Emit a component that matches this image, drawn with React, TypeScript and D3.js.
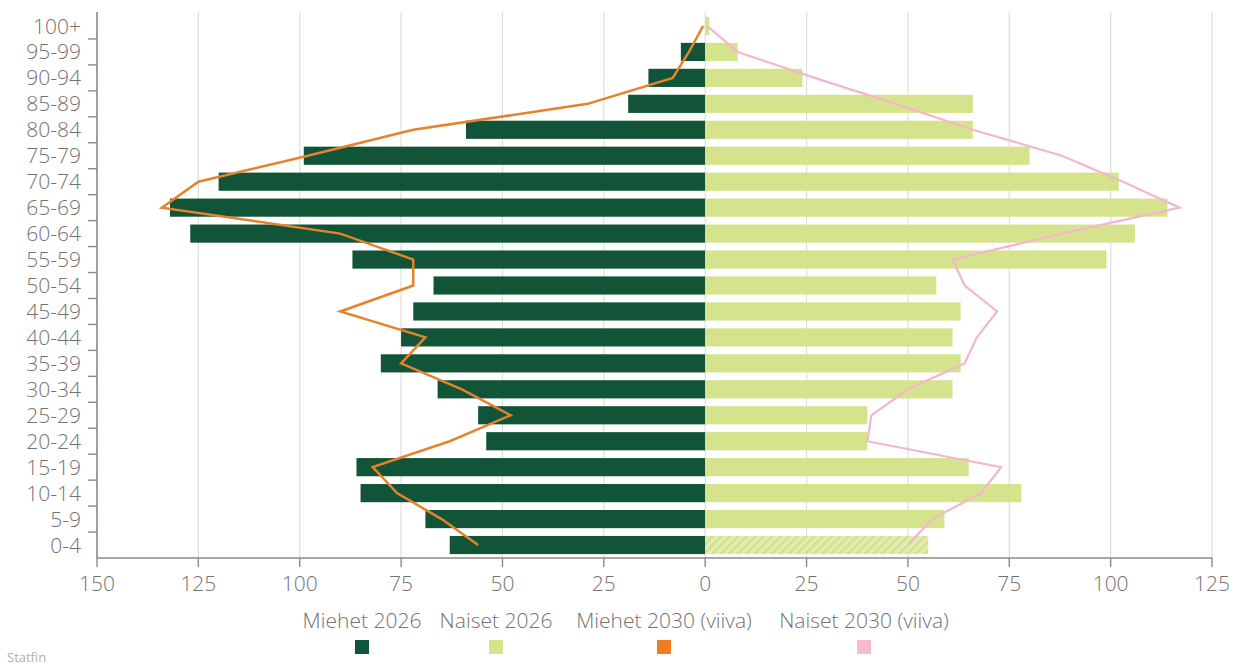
import { useEffect, useRef } from "react";
import * as d3 from "d3";

// age groups, youngest first
const ages = [
  "0-4", "5-9", "10-14", "15-19", "20-24", "25-29", "30-34", "35-39", "40-44",
  "45-49", "50-54", "55-59", "60-64", "65-69", "70-74", "75-79", "80-84",
  "85-89", "90-94", "95-99", "100+",
];

const men2026 = [63, 69, 85, 86, 54, 56, 66, 80, 75, 72, 67, 87, 127, 132, 120, 99, 59, 19, 14, 6, 0];
const women2026 = [55, 59, 78, 65, 40, 40, 61, 63, 61, 63, 57, 99, 106, 114, 102, 80, 66, 66, 24, 8, 1];
const men2030 = [56, 65, 76, 82, 63, 48, 60, 75, 69, 90, 72, 72, 90, 134, 125, 98, 72, 29, 8, 4, 0.5];
const women2030 = [50, 56, 68, 73, 40, 41, 50, 64, 67, 72, 64, 61, 88, 117, 103, 88, 66, 47, 27, 8, 0.5];

const xTicks = [-150, -125, -100, -75, -50, -25, 0, 25, 50, 75, 100, 125];

const legendItems = [
  { label: "Miehet 2026", color: "#115438", cx: 362 },
  { label: "Naiset 2026", color: "#d5e48c", cx: 496 },
  { label: "Miehet 2030 (viiva)", color: "#ef7d22", cx: 664 },
  { label: "Naiset 2030 (viiva)", color: "#f5bcd0", cx: 864 },
];

const W = 1237;
const H = 666;
const FONT = "'Open Sans', 'Noto Sans', sans-serif";
const TEXT = "#727272";
const FS = 21;

export default function App() {
  const ref = useRef<SVGSVGElement>(null);

  useEffect(() => {
    if (!ref.current) return;
    const svg = d3.select(ref.current);
    svg.selectAll("*").remove();

    const left = 97;
    const right = 1212;
    const top = 13;
    const bottom = 558;

    const x = d3.scaleLinear().domain([-150, 125]).range([left, right]);
    const y = d3
      .scaleBand<string>()
      .domain([...ages].reverse())
      .range([top, bottom])
      .paddingInner(0.3)
      .paddingOuter(0.15);
    const step = y.step();
    const bw = y.bandwidth();

    const defs = svg.append("defs");
    const pat = defs
      .append("pattern")
      .attr("id", "hatch")
      .attr("patternUnits", "userSpaceOnUse")
      .attr("width", 6)
      .attr("height", 6)
      .attr("patternTransform", "rotate(45)");
    pat.append("rect").attr("width", 6).attr("height", 6).attr("fill", "#e3ecb4");
    pat.append("rect").attr("width", 2.5).attr("height", 6).attr("fill", "#d3e289");

    // grid
    svg
      .append("g")
      .selectAll("line")
      .data(xTicks.slice(1))
      .join("line")
      .attr("x1", (d) => x(d))
      .attr("x2", (d) => x(d))
      .attr("y1", top - 1)
      .attr("y2", bottom)
      .attr("stroke", "#dedede")
      .attr("stroke-width", 1.2);

    // bars
    svg
      .append("g")
      .selectAll("rect")
      .data(ages)
      .join("rect")
      .attr("x", (_, i) => x(-men2026[i]))
      .attr("y", (d) => y(d)!)
      .attr("width", (_, i) => x(0) - x(-men2026[i]))
      .attr("height", bw)
      .attr("fill", "#115438");

    svg
      .append("g")
      .selectAll("rect")
      .data(ages)
      .join("rect")
      .attr("x", x(0))
      .attr("y", (d) => y(d)!)
      .attr("width", (_, i) => x(women2026[i]) - x(0))
      .attr("height", bw)
      .attr("fill", (_, i) => (i === 0 ? "url(#hatch)" : "#d5e48c"));

    // lines
    const cy = (i: number) => y(ages[i])! + bw / 2;
    const menLine = d3
      .line<number>()
      .x((v) => x(-v))
      .y((_, i) => cy(i));
    const womenLine = d3
      .line<number>()
      .x((v) => x(v))
      .y((_, i) => cy(i));

    svg
      .append("path")
      .attr("d", womenLine(women2030))
      .attr("fill", "none")
      .attr("stroke", "#f3b6cb")
      .attr("stroke-width", 2.2)
      .attr("stroke-linejoin", "miter");
    svg
      .append("path")
      .attr("d", menLine(men2030))
      .attr("fill", "none")
      .attr("stroke", "#e5832d")
      .attr("stroke-width", 2.5)
      .attr("stroke-linejoin", "miter");

    // axes
    const axisColor = "#8a8a8a";
    svg
      .append("line")
      .attr("x1", left)
      .attr("x2", left)
      .attr("y1", top - 1)
      .attr("y2", bottom)
      .attr("stroke", axisColor)
      .attr("stroke-width", 1.6);
    svg
      .append("line")
      .attr("x1", left)
      .attr("x2", right)
      .attr("y1", bottom)
      .attr("y2", bottom)
      .attr("stroke", axisColor)
      .attr("stroke-width", 1.6);

    // y ticks at band boundaries
    svg
      .append("g")
      .selectAll("line")
      .data(d3.range(1, ages.length))
      .join("line")
      .attr("x1", left - 9)
      .attr("x2", left)
      .attr("y1", (i) => top + i * step)
      .attr("y2", (i) => top + i * step)
      .attr("stroke", axisColor)
      .attr("stroke-width", 1.4);

    svg
      .append("g")
      .selectAll("text")
      .data(ages)
      .join("text")
      .attr("x", 81)
      .attr("y", (d) => y(d)! + bw / 2)
      .attr("dy", "0.36em")
      .attr("text-anchor", "end")
      .attr("font-family", FONT)
      .attr("font-size", FS)
      .attr("font-weight", 300)
      .attr("fill", TEXT)
      .text((d) => d);

    // x ticks
    svg
      .append("g")
      .selectAll("line")
      .data(xTicks)
      .join("line")
      .attr("x1", (d) => x(d))
      .attr("x2", (d) => x(d))
      .attr("y1", bottom)
      .attr("y2", bottom + 9)
      .attr("stroke", axisColor)
      .attr("stroke-width", 1.4);

    svg
      .append("g")
      .selectAll("text")
      .data(xTicks)
      .join("text")
      .attr("x", (d) => x(d))
      .attr("y", 591)
      .attr("text-anchor", "middle")
      .attr("font-family", FONT)
      .attr("font-size", FS)
      .attr("font-weight", 300)
      .attr("fill", TEXT)
      .text((d) => String(Math.abs(d)));

    // legend
    const lg = svg.append("g");
    lg.selectAll("text")
      .data(legendItems)
      .join("text")
      .attr("x", (d) => d.cx)
      .attr("y", 628)
      .attr("text-anchor", "middle")
      .attr("font-family", FONT)
      .attr("font-size", FS)
      .attr("font-weight", 300)
      .attr("fill", TEXT)
      .text((d) => d.label);
    lg.selectAll("rect")
      .data(legendItems)
      .join("rect")
      .attr("x", (d) => d.cx - 7)
      .attr("y", 640)
      .attr("width", 14)
      .attr("height", 14)
      .attr("fill", (d) => d.color);

    svg
      .append("text")
      .attr("x", 7)
      .attr("y", 662)
      .attr("font-family", FONT)
      .attr("font-size", 13)
      .attr("fill", "#b0b0b0")
      .text("Statfin");
  }, []);

  return (
    <svg
      ref={ref}
      width={W}
      height={H}
      style={{ position: "absolute", left: 0, top: 0, background: "#fff" }}
    />
  );
}
